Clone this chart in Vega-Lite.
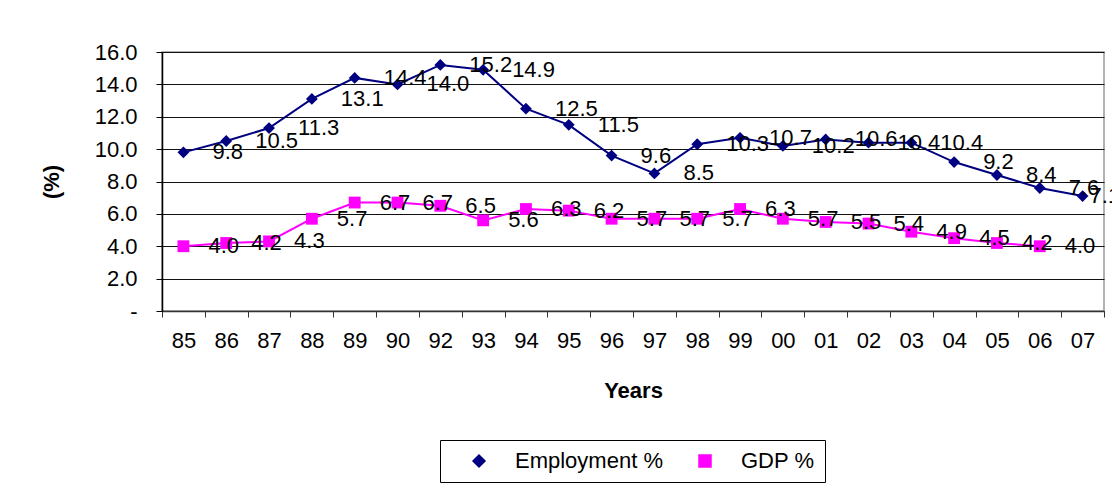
{
  "$schema": "https://vega.github.io/schema/vega-lite/v6.json",
  "width": 942,
  "height": 259,
  "autosize": {"type": "none"},
  "padding": {"left": 162, "top": 52, "right": 8, "bottom": 178},
  "background": "white",
  "config": {
    "font": "Liberation Sans",
    "view": {"stroke": "#999999", "strokeWidth": 1.5},
    "axis": {"labelFont": "Liberation Sans", "titleFont": "Liberation Sans", "labelColor": "black", "titleColor": "black"},
    "legend": {"labelFont": "Liberation Sans"}
  },
  "data": {
    "values": [
      {"year": "85", "series": "Employment %", "value": 9.8},
      {"year": "86", "series": "Employment %", "value": 10.5},
      {"year": "87", "series": "Employment %", "value": 11.3},
      {"year": "88", "series": "Employment %", "value": 13.1},
      {"year": "89", "series": "Employment %", "value": 14.4},
      {"year": "90", "series": "Employment %", "value": 14.0},
      {"year": "92", "series": "Employment %", "value": 15.2},
      {"year": "93", "series": "Employment %", "value": 14.9},
      {"year": "94", "series": "Employment %", "value": 12.5},
      {"year": "95", "series": "Employment %", "value": 11.5},
      {"year": "96", "series": "Employment %", "value": 9.6},
      {"year": "97", "series": "Employment %", "value": 8.5},
      {"year": "98", "series": "Employment %", "value": 10.3},
      {"year": "99", "series": "Employment %", "value": 10.7},
      {"year": "00", "series": "Employment %", "value": 10.2},
      {"year": "01", "series": "Employment %", "value": 10.6},
      {"year": "02", "series": "Employment %", "value": 10.4},
      {"year": "03", "series": "Employment %", "value": 10.4},
      {"year": "04", "series": "Employment %", "value": 9.2},
      {"year": "05", "series": "Employment %", "value": 8.4},
      {"year": "06", "series": "Employment %", "value": 7.6},
      {"year": "07", "series": "Employment %", "value": 7.1},
      {"year": "85", "series": "GDP %", "value": 4.0},
      {"year": "86", "series": "GDP %", "value": 4.2},
      {"year": "87", "series": "GDP %", "value": 4.3},
      {"year": "88", "series": "GDP %", "value": 5.7},
      {"year": "89", "series": "GDP %", "value": 6.7},
      {"year": "90", "series": "GDP %", "value": 6.7},
      {"year": "92", "series": "GDP %", "value": 6.5},
      {"year": "93", "series": "GDP %", "value": 5.6},
      {"year": "94", "series": "GDP %", "value": 6.3},
      {"year": "95", "series": "GDP %", "value": 6.2},
      {"year": "96", "series": "GDP %", "value": 5.7},
      {"year": "97", "series": "GDP %", "value": 5.7},
      {"year": "98", "series": "GDP %", "value": 5.7},
      {"year": "99", "series": "GDP %", "value": 6.3},
      {"year": "00", "series": "GDP %", "value": 5.7},
      {"year": "01", "series": "GDP %", "value": 5.5},
      {"year": "02", "series": "GDP %", "value": 5.4},
      {"year": "03", "series": "GDP %", "value": 4.9},
      {"year": "04", "series": "GDP %", "value": 4.5},
      {"year": "05", "series": "GDP %", "value": 4.2},
      {"year": "06", "series": "GDP %", "value": 4.0}
    ]
  },
  "encoding": {
    "x": {
      "field": "year",
      "type": "nominal",
      "bandPosition": 0.5,
      "sort": ["85","86","87","88","89","90","92","93","94","95","96","97","98","99","00","01","02","03","04","05","06","07"],
      "scale": {"type": "band", "paddingInner": 0, "paddingOuter": 0},
      "axis": {
        "title": "Years",
        "titleFontSize": 22,
        "titleFontWeight": "bold",
        "titlePadding": 29,
        "labelFontSize": 22,
        "labelAngle": 0,
        "labelPadding": 13,
        "tickBand": "extent",
        "tickSize": 6,
        "tickColor": "#333333",
        "domainColor": "#333333",
        "domainWidth": 1.5,
        "grid": false
      }
    },
    "y": {
      "field": "value",
      "type": "quantitative",
      "scale": {"domain": [0, 16], "nice": false},
      "axis": {
        "title": "(%)",
        "titleFontSize": 22,
        "titleFontWeight": "bold",
        "titlePadding": 31,
        "labelFontSize": 22,
        "labelPadding": 19,
        "values": [0, 2, 4, 6, 8, 10, 12, 14, 16],
        "labelExpr": "datum.value == 0 ? '-' : format(datum.value, '.1f')",
        "tickSize": 6,
        "tickColor": "#000000",
        "domainColor": "#000000",
        "domainWidth": 1.5,
        "grid": true,
        "gridColor": "#111111",
        "gridWidth": 1
      }
    }
  },
  "layer": [
    {
      "mark": {"type": "line", "strokeWidth": 2},
      "encoding": {
        "color": {
          "field": "series",
          "type": "nominal",
          "scale": {"domain": ["Employment %", "GDP %"], "range": ["#000080", "#FF00FF"]}
        }
      }
    },
    {
      "mark": {"type": "point", "filled": true, "opacity": 1, "size": 140},
      "encoding": {
        "color": {
          "field": "series",
          "type": "nominal",
          "scale": {"domain": ["Employment %", "GDP %"], "range": ["#000080", "#FF00FF"]},
          "legend": {
            "title": null, "orient": "none", "legendX": 278, "legendY": 388, "direction": "horizontal",
            "labelFontSize": 22, "labelColor": "black", "symbolSize": 144, "strokeColor": "black", "padding": 10,
            "symbolOffset": 18, "labelOffset": 25, "columnPadding": 13
          }
        },
        "shape": {
          "field": "series",
          "type": "nominal",
          "scale": {"domain": ["Employment %", "GDP %"], "range": ["diamond", "square"]},
          "legend": {
            "title": null, "orient": "none", "legendX": 278, "legendY": 388, "direction": "horizontal",
            "labelFontSize": 22, "labelColor": "black", "symbolSize": 144, "strokeColor": "black", "padding": 10,
            "symbolOffset": 18, "labelOffset": 25, "columnPadding": 13
          }
        }
      }
    },
    {
      "transform": [{"filter": "datum.series == 'Employment %' && datum.year != '07'"}],
      "mark": {"type": "text", "align": "left", "baseline": "middle", "dx": 29, "fontSize": 22, "font": "Liberation Sans", "color": "black"},
      "encoding": {
        "text": {"field": "value", "type": "quantitative", "format": ".1f"}
      }
    },
    {
      "transform": [{"filter": "datum.series == 'Employment %' && datum.year == '07'"}],
      "mark": {"type": "text", "align": "left", "baseline": "middle", "dx": 7, "fontSize": 22, "font": "Liberation Sans", "color": "black"},
      "encoding": {
        "text": {"field": "value", "type": "quantitative", "format": ".1f"}
      }
    },
    {
      "transform": [{"filter": "datum.series == 'GDP %'"}],
      "mark": {"type": "text", "align": "left", "baseline": "middle", "dx": 25, "fontSize": 22, "font": "Liberation Sans", "color": "black"},
      "encoding": {
        "text": {"field": "value", "type": "quantitative", "format": ".1f"}
      }
    }
  ]
}
